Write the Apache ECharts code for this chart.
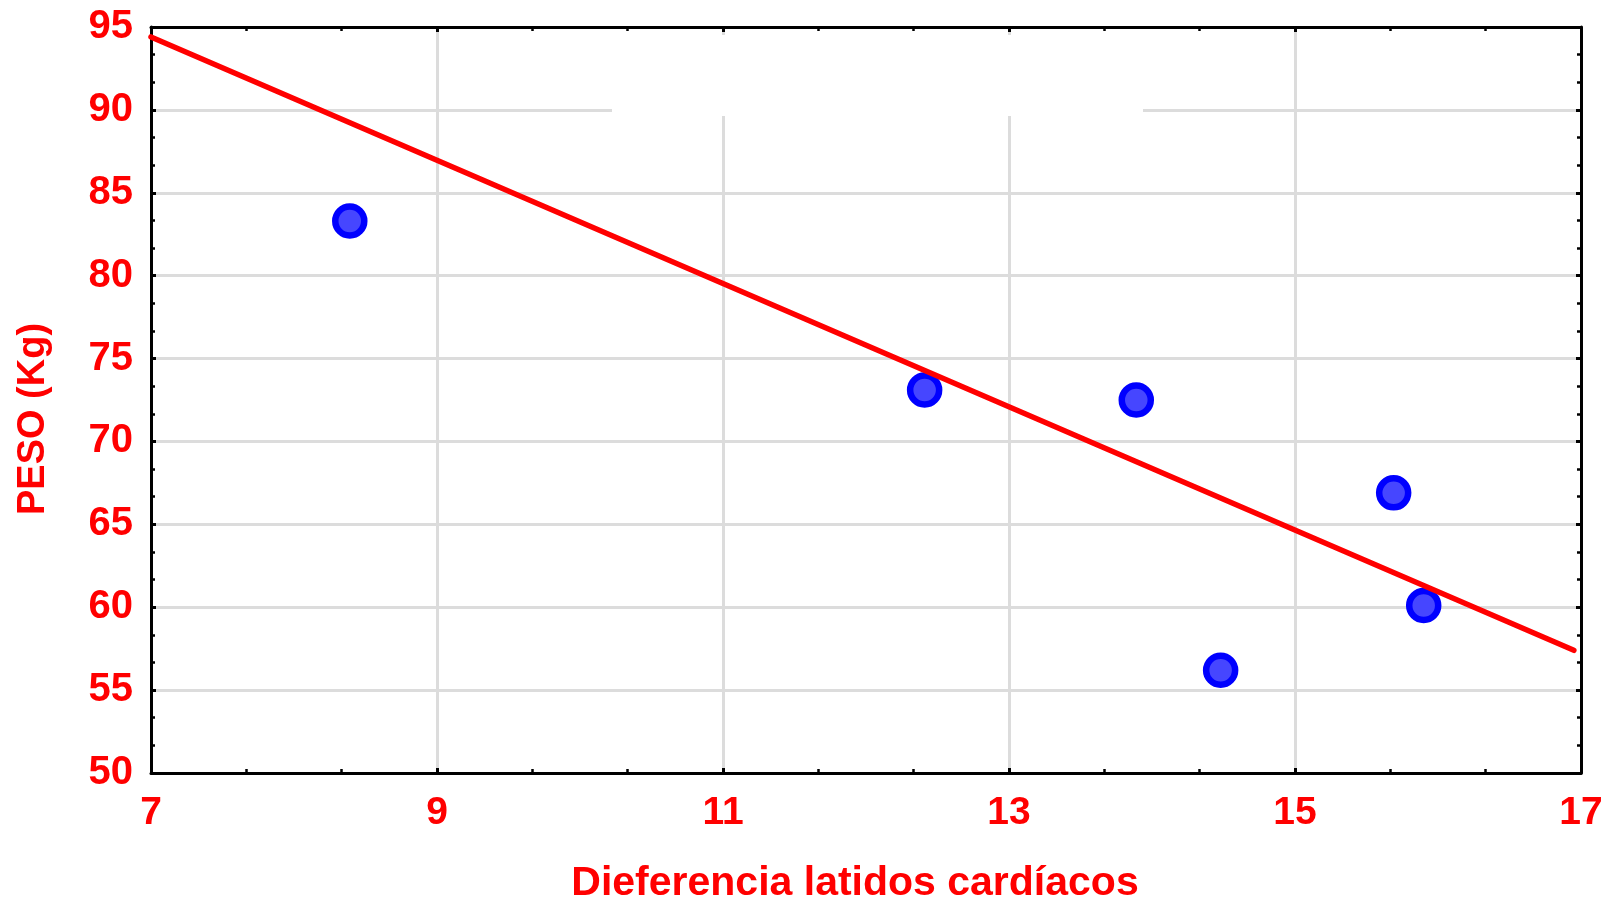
<!DOCTYPE html>
<html>
<head>
<meta charset="utf-8">
<script src="https://cdn.jsdelivr.net/npm/echarts@6/dist/echarts.min.js"></script>
<style>
  html, body { margin: 0; padding: 0; background: #ffffff; }
  #chart { width: 1610px; height: 899px; }
</style>
</head>
<body>
<div id="chart"></div>
<script>
// Heart-rate difference (beats) against body weight (kg)
const latidos = [8.39, 12.41, 13.89, 14.48, 15.69, 15.90];
const pesoKg = [83.3, 73.1, 72.5, 56.2, 66.9, 60.1];

// Fitted trend line, end points
const trendX = [7, 16.95];
const trendY = [94.4, 57.4];

// Axis ranges and tick steps
const xRange = [7, 17];
const xStep = 2;
const yRange = [50, 95];
const yStep = 5;

const xTitle = 'Dieferencia latidos cardíacos';
const yTitle = 'PESO (Kg)';

// The x ticks run 7, 9, 11 ... so the axis is laid out from its own origin
// (0 .. 10 with a step of 2) and the labels add the start value back.
const X0 = xRange[0];
const shiftX = v => v - X0;

const points = latidos.map((x, i) => [shiftX(x), pesoKg[i]]);
const trend = trendX.map((x, i) => [shiftX(x), trendY[i]]);

const FONT = '"Liberation Sans", Arial, Helvetica, sans-serif';
const RED = '#ff0000';

const tickCommon = {
  show: true, inside: true, length: 5,
  lineStyle: { color: '#000', width: 3 }
};
const minorCommon = {
  show: true, splitNumber: 3, length: 4,
  lineStyle: { color: '#000', width: 2.5 }
};
const axisLineCommon = { show: true, onZero: false, lineStyle: { color: '#000', width: 3 } };
const gridLine = { show: true, lineStyle: { color: '#dcdcdc', width: 3 } };

const chart = echarts.init(document.getElementById('chart'), null, { renderer: 'canvas' });

chart.setOption({
  backgroundColor: '#ffffff',
  animation: false,
  grid: {
    left: 151, right: 29, top: 27, bottom: 126,
    containLabel: false,
    outerBoundsMode: 'none'
  },
  xAxis: [
    {
      type: 'value',
      position: 'bottom',
      min: 0, max: xRange[1] - X0, interval: xStep,
      axisLine: axisLineCommon,
      axisTick: tickCommon,
      minorTick: minorCommon,
      splitLine: gridLine,
      axisLabel: {
        color: RED, fontFamily: FONT, fontWeight: 'bold', fontSize: 39, margin: 21,
        formatter: v => String(v + X0)
      },
      name: xTitle,
      nameLocation: 'middle',
      nameGap: 90,
      nameMoveOverlap: false,
      nameTextStyle: {
        color: RED, fontFamily: FONT, fontWeight: 'bold', fontSize: 41,
        padding: [0, 22, 0, 0]
      }
    },
    {
      type: 'value',
      position: 'top',
      min: 0, max: xRange[1] - X0, interval: xStep,
      axisLine: axisLineCommon,
      axisTick: tickCommon,
      minorTick: minorCommon,
      splitLine: { show: false },
      axisLabel: { show: false }
    }
  ],
  yAxis: [
    {
      type: 'value',
      position: 'left',
      min: yRange[0], max: yRange[1], interval: yStep,
      axisLine: axisLineCommon,
      axisTick: tickCommon,
      minorTick: minorCommon,
      splitLine: gridLine,
      axisLabel: {
        color: RED, fontFamily: FONT, fontWeight: 'bold', fontSize: 40, margin: 18
      },
      name: yTitle,
      nameLocation: 'middle',
      nameGap: 98,
      nameMoveOverlap: false,
      nameTextStyle: {
        color: RED, fontFamily: FONT, fontWeight: 'bold', fontSize: 38,
        padding: [0, 38, 0, 0]
      }
    },
    {
      type: 'value',
      position: 'right',
      min: yRange[0], max: yRange[1], interval: yStep,
      axisLine: axisLineCommon,
      axisTick: tickCommon,
      minorTick: minorCommon,
      splitLine: { show: false },
      axisLabel: { show: false }
    }
  ],
  // blank patch near the top of the plot where the grid is left open
  graphic: [
    {
      type: 'rect',
      z: 1,
      shape: { x: 612, y: 35, width: 531, height: 81 },
      style: { fill: '#ffffff' },
      silent: true
    }
  ],
  series: [
    {
      name: 'datos',
      type: 'scatter',
      xAxisIndex: 0, yAxisIndex: 0,
      data: points,
      symbol: 'circle',
      symbolSize: 29,
      itemStyle: { color: '#4646ff', borderColor: '#0000ff', borderWidth: 6.5, opacity: 1 },
      z: 3
    },
    {
      name: 'ajuste',
      type: 'line',
      xAxisIndex: 0, yAxisIndex: 0,
      data: trend,
      showSymbol: false,
      symbol: 'none',
      lineStyle: { color: RED, width: 5.5, cap: 'round' },
      z: 4
    }
  ]
});
</script>
</body>
</html>
